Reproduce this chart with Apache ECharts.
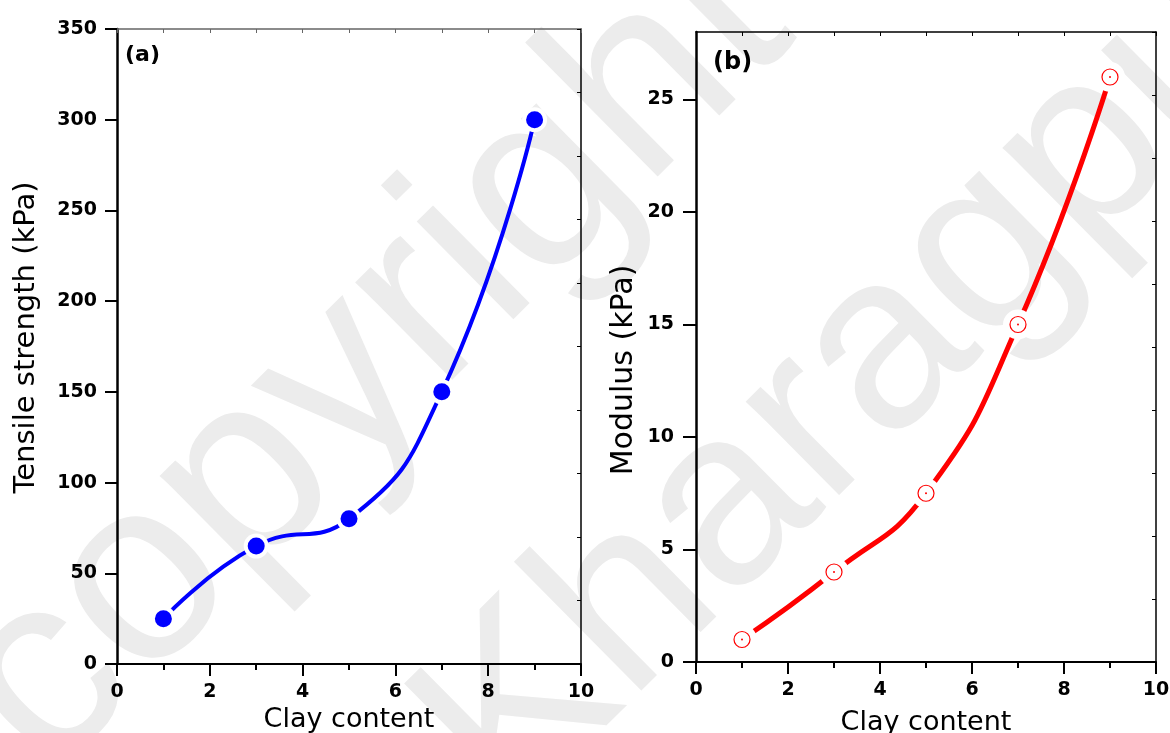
<!DOCTYPE html>
<html>
<head>
<meta charset="utf-8">
<script src="https://cdn.jsdelivr.net/npm/echarts@6/dist/echarts.min.js"></script>
<style>
html, body { margin: 0; padding: 0; background: #fff; }
#chart { width: 1170px; height: 733px; }
</style>
</head>
<body>
<div id="chart"></div>
<script>
// data
var clayContent = [1, 3, 5, 7, 9];
var tensileStrength = [25, 65, 80, 150, 300];
var modulus = [1, 4, 7.5, 15, 26];
var clayTicks = [0, 2, 4, 6, 8, 10];
var tensileTicks = [0, 50, 100, 150, 200, 250, 300, 350];
var modulusTicks = [0, 5, 10, 15, 20, 25];

function pairs(xs, ys) {
    return xs.map(function (x, i) { return [x, ys[i]]; });
}

var tickFont = {
    color: '#000',
    fontFamily: 'DejaVu Sans',
    fontWeight: 'bold',
    fontSize: 19
};
var nameFont = {
    color: '#000',
    fontFamily: 'DejaVu Sans',
    fontSize: 29
};

function bottomAxis(grid, gap) {
    return {
        type: 'value', gridIndex: grid, position: 'bottom',
        min: 0, max: 10,
        axisTick: { customValues: clayTicks, length: 12, lineStyle: { color: '#000', width: 2 } },
        axisLabel: Object.assign({ customValues: clayTicks, margin: 19 }, tickFont),
        minorTick: { show: true, splitNumber: 2, length: 6, lineStyle: { color: '#000', width: 2 } },
        axisLine: { onZero: false, lineStyle: { color: '#000', width: 2 } },
        splitLine: { show: false },
        name: 'Clay content', nameLocation: 'middle', nameGap: gap,
        nameTextStyle: Object.assign({}, nameFont, { fontSize: 27 })
    };
}

function topAxis(grid, col) {
    return {
        type: 'value', gridIndex: grid, position: 'top',
        min: 0, max: 10, interval: 1,
        axisTick: { inside: true, length: 4, lineStyle: { color: col, width: 1 } },
        axisLabel: { show: false },
        axisLine: { onZero: false, lineStyle: { color: col, width: 1.5 } },
        splitLine: { show: false }
    };
}

function rightAxis(grid) {
    return {
        type: 'value', gridIndex: grid, position: 'right',
        min: 0, max: 10, interval: 1,
        axisTick: { inside: true, length: 4, lineStyle: { color: '#000', width: 1 } },
        axisLabel: { show: false },
        axisLine: { onZero: false, lineStyle: { color: '#000', width: 1.5 } },
        splitLine: { show: false }
    };
}

var chart = echarts.init(document.getElementById('chart'));
chart.setOption({
    animation: false,
    backgroundColor: '#fff',
    graphic: [
        { type: 'text', x: 90, y: 820, rotation: 0.78, z: -10, silent: true,
          style: { text: 'copyright', font: '260px "Liberation Sans"', fill: '#ececec', textAlign: 'left', textVerticalAlign: 'bottom' } },
        { type: 'text', x: 550, y: 860, rotation: 0.78, z: -10, silent: true,
          style: { text: 'Kharagpur', font: '250px "Liberation Sans"', fill: '#ececec', textAlign: 'left', textVerticalAlign: 'bottom' } },
        { type: 'text', left: 125, top: 44, z: 10,
          style: { text: '(a)', font: 'bold 22px "DejaVu Sans"', fill: '#000' } },
        { type: 'text', left: 713, top: 51, z: 10,
          style: { text: '(b)', font: 'bold 24px "DejaVu Sans"', fill: '#000' } }
    ],
    grid: [
        { left: 117, top: 29, width: 464, height: 635, outerBoundsMode: 'none', containLabel: false },
        { left: 696, top: 32, width: 460, height: 630, outerBoundsMode: 'none', containLabel: false }
    ],
    xAxis: [
        bottomAxis(0, 40),
        topAxis(0, '#666'),
        bottomAxis(1, 47),
        topAxis(1, '#000')
    ],
    yAxis: [
        {
            type: 'value', gridIndex: 0, position: 'left',
            min: 0, max: 350, interval: 50,
            axisTick: { customValues: tensileTicks, length: 12, lineStyle: { color: '#000', width: 2 } },
            axisLabel: Object.assign({ customValues: tensileTicks, margin: 20 }, tickFont),
            axisLine: { onZero: false, lineStyle: { color: '#000', width: 2.5 } },
            splitLine: { show: false },
            name: 'Tensile strength (kPa)', nameLocation: 'middle', nameGap: 76,
            nameTextStyle: Object.assign({}, nameFont, { padding: [0, 0, 0, 18] })
        },
        rightAxis(0),
        {
            type: 'value', gridIndex: 1, position: 'left',
            min: 0, max: 28,
            axisTick: { customValues: modulusTicks, length: 13, lineStyle: { color: '#000', width: 2 } },
            axisLabel: Object.assign({ customValues: modulusTicks, margin: 22 }, tickFont),
            axisLine: { onZero: false, lineStyle: { color: '#000', width: 2.5 } },
            splitLine: { show: false },
            name: 'Modulus (kPa)', nameLocation: 'middle', nameGap: 57,
            nameTextStyle: Object.assign({}, nameFont, { fontSize: 30, padding: [0, 46, 0, 0] })
        },
        rightAxis(1)
    ],
    series: [
        {
            type: 'line', xAxisIndex: 0, yAxisIndex: 0, z: 2,
            data: pairs(clayContent, tensileStrength),
            smooth: 0.5, showSymbol: false,
            lineStyle: { color: '#0000ff', width: 4, cap: 'round' }
        },
        {
            type: 'scatter', xAxisIndex: 0, yAxisIndex: 0, z: 3,
            data: pairs(clayContent, tensileStrength),
            symbolSize: 25, itemStyle: { color: '#fff', opacity: 1 }
        },
        {
            type: 'scatter', xAxisIndex: 0, yAxisIndex: 0, z: 4,
            data: pairs(clayContent, tensileStrength),
            symbolSize: 17, itemStyle: { color: '#0000ff', opacity: 1 }
        },
        {
            type: 'line', xAxisIndex: 2, yAxisIndex: 2, z: 2,
            data: pairs(clayContent, modulus),
            smooth: 0.5, showSymbol: false,
            lineStyle: { color: '#ff0000', width: 5, cap: 'round' }
        },
        {
            type: 'scatter', xAxisIndex: 2, yAxisIndex: 2, z: 3,
            data: pairs(clayContent, modulus),
            symbolSize: 30, itemStyle: { color: '#fff', opacity: 1 }
        },
        {
            type: 'scatter', xAxisIndex: 2, yAxisIndex: 2, z: 4,
            data: pairs(clayContent, modulus),
            symbolSize: 16, itemStyle: { color: '#fff', borderColor: '#ff0000', borderWidth: 1.2, opacity: 1 }
        },
        {
            type: 'scatter', xAxisIndex: 2, yAxisIndex: 2, z: 5,
            data: pairs(clayContent, modulus),
            symbolSize: 2, itemStyle: { color: '#ff0000', opacity: 1 }
        }
    ]
});
</script>
</body>
</html>
